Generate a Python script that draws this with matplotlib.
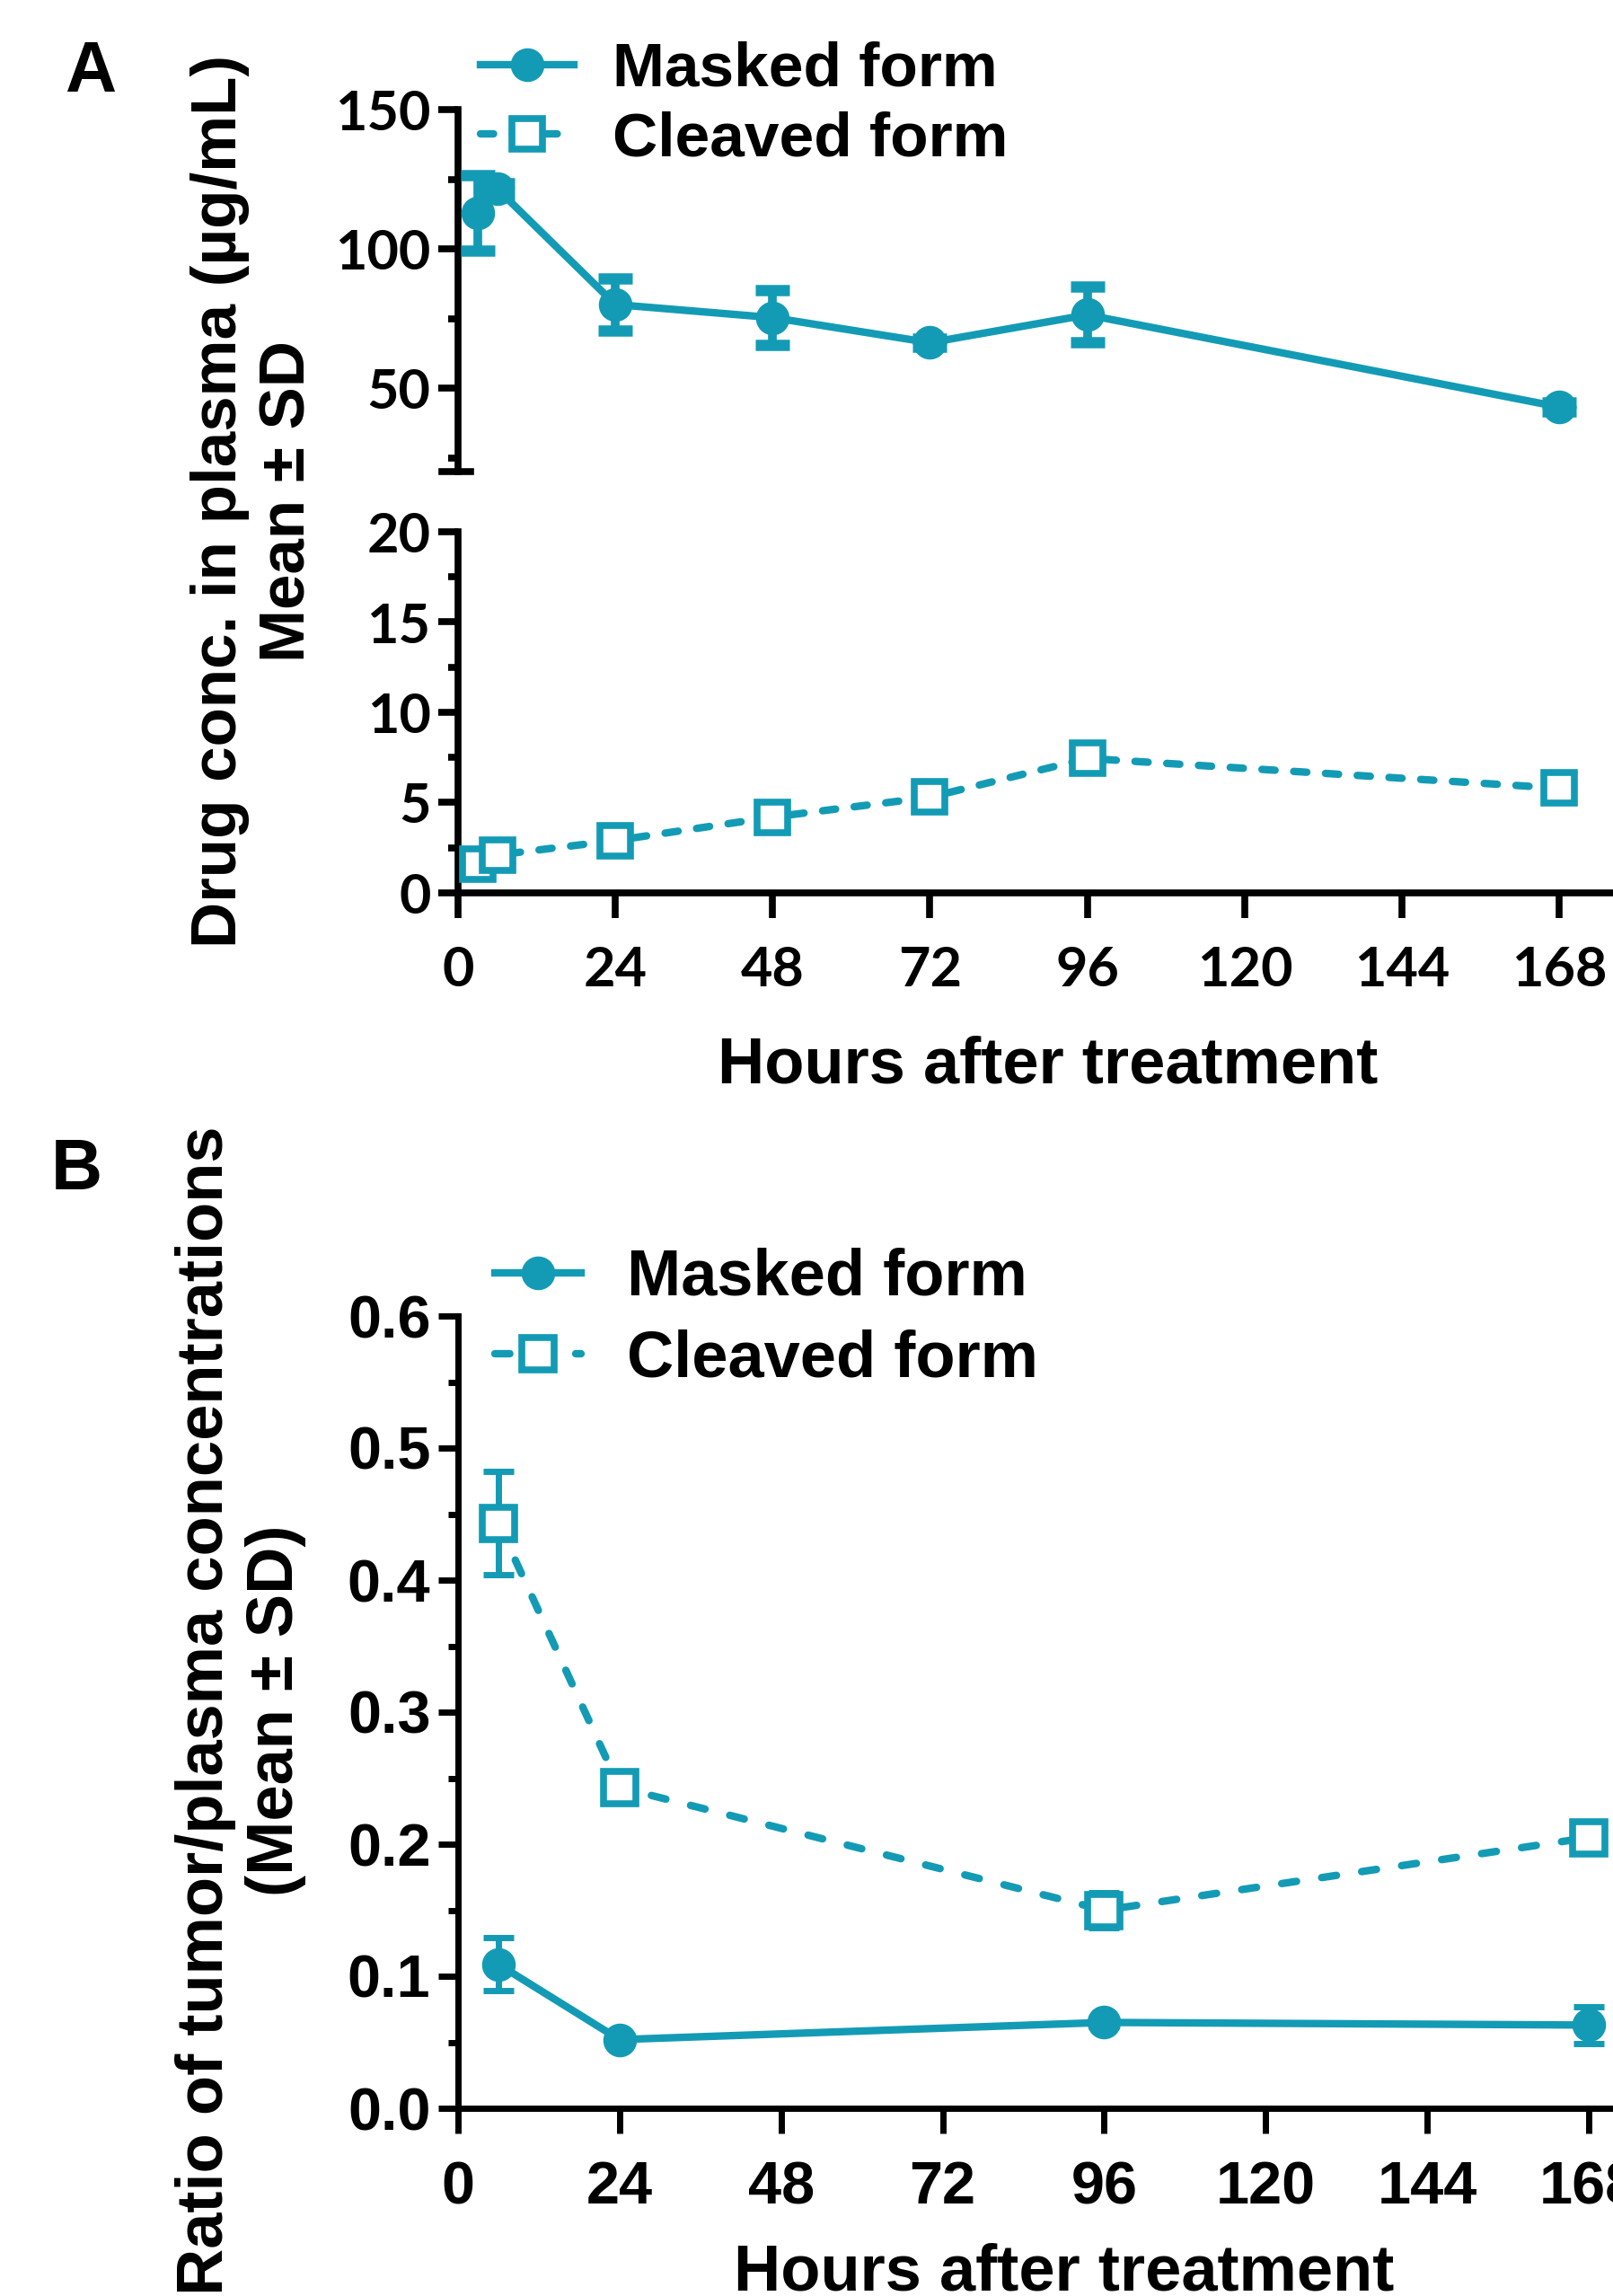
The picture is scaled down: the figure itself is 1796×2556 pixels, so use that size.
import matplotlib
matplotlib.use("Agg")
import matplotlib.pyplot as plt
from matplotlib.ticker import MultipleLocator, FormatStrFormatter

# colours / fonts
teal = "#139bb5"
arial = ["Liberation Sans", "DejaVu Sans"]
calibri = ["Lato", "Liberation Sans", "DejaVu Sans"]

# panel A data (plasma conc.)
hours_a = [3, 6, 24, 48, 72, 96, 168]
masked_a = [113, 121.5, 80, 75.3, 66.3, 76.3, 43.2]
masked_a_sd = [13.6, 2, 9.5, 9.8, 1.5, 10, 1.5]
cleaved_a = [1.6, 2.1, 2.9, 4.2, 5.3, 7.45, 5.8]
cleaved_a_sd = [0.2, 0.2, 0.2, 0.2, 0.65, 0.2, 0.2]

# panel B data (tumor/plasma ratio)
hours_b = [6, 24, 96, 168]
masked_b = [0.109, 0.052, 0.065, 0.063]
masked_b_sd = [0.020, 0.003, 0.003, 0.014]
cleaved_b = [0.443, 0.243, 0.150, 0.205]
cleaved_b_sd = [0.039, 0.005, 0.013, 0.011]

hour_ticks = [0, 24, 48, 72, 96, 120, 144, 168]
legend_labels = ["Masked form", "Cleaved form"]

W, H = 1796, 2556
fig = plt.figure(figsize=(W / 100, H / 100), dpi=100)


def box(left, top, bottom):
    return [left / W, 1 - bottom / H, (W - left) / W, (bottom - top) / H]


axA1 = fig.add_axes(box(510, 122, 525))
axA2 = fig.add_axes(box(510, 592, 994))
axB = fig.add_axes(box(510, 1465, 2347))


def style_axis(ax, lw, tick_font, tick_size, show_x=True):
    for s in ["top", "right"]:
        ax.spines[s].set_visible(False)
    ax.spines["left"].set_linewidth(lw)
    ax.spines["bottom"].set_linewidth(lw)
    if not show_x:
        ax.spines["bottom"].set_visible(False)
        ax.tick_params(axis="x", which="both", bottom=False, labelbottom=False)
    else:
        ax.set_xticks(hour_ticks)
        ax.tick_params(axis="x", which="major", length=20, width=lw, pad=22)
    ax.tick_params(axis="y", which="major", length=16, width=lw, pad=6)
    ax.tick_params(axis="y", which="minor", length=8, width=lw)
    for lab in ax.get_xticklabels() + ax.get_yticklabels():
        lab.set_fontfamily(tick_font)
        lab.set_fontweight("bold")
        lab.set_fontsize(tick_size)


def draw(ax, x, y, sd, filled, lw, ms, dashes, cap, capw, elw):
    ax.errorbar(x, y, yerr=sd, fmt="none", ecolor=teal, elinewidth=elw,
                capsize=cap, capthick=capw, clip_on=False, zorder=3)
    if filled:
        line, = ax.plot(x, y, "-o", color=teal, lw=lw, ms=ms,
                        clip_on=False, zorder=4)
    else:
        line, = ax.plot(x, y, "--s", color=teal, lw=lw, ms=ms,
                        mfc="white", mec=teal, mew=5.5, dashes=dashes,
                        dash_capstyle="round", clip_on=False, zorder=4)
    return line


# ---- panel A ----
hA1 = draw(axA1, hours_a, masked_a, masked_a_sd, True, 6, 26, None, 14, 9, 7)
hA2 = draw(axA2, hours_a, cleaved_a, cleaved_a_sd, False, 6, 25, (1.75, 2.5), 12, 7, 6)

axA1.set_xlim(0, 176.2)
axA2.set_xlim(0, 176.2)
axA1.set_ylim(20, 150)
axA2.set_ylim(0, 20)
axA1.set_yticks([50, 100, 150])
axA1.yaxis.set_minor_locator(MultipleLocator(25))
axA2.set_yticks([0, 5, 10, 15, 20])
axA2.yaxis.set_minor_locator(MultipleLocator(2.5))
style_axis(axA1, 5.5, calibri, 44, show_x=False)
style_axis(axA2, 5.5, calibri, 44)
# axis break cap at the bottom of the upper segment
axA1.axhline(20, xmin=-0.014, xmax=0.011, color="black", lw=5.5, clip_on=False)

axA2.set_xlabel("Hours after treatment", fontsize=52, fontweight="bold",
                family=arial)
axA2.xaxis.set_label_coords(0.511, -0.48)
axA2.xaxis.label.set_verticalalignment("center")

fig.text(283 / W, 1 - 558 / H, "Drug conc. in plasma (µg/mL)\nMean ± SD",
         rotation=90, ha="center", va="center", multialignment="center",
         fontsize=51, fontweight="bold", family=arial, linespacing=1.2)

fig.legend([hA1, hA2], legend_labels, loc="upper left",
           bbox_to_anchor=(535 / W, 1 - 46 / H), frameon=False,
           prop={"family": arial, "weight": "bold", "size": 50},
           handlelength=1.5, handletextpad=0.62, labelspacing=0.19,
           borderpad=0, borderaxespad=0)

fig.text(101 / W, 1 - 82 / H, "A", ha="center", va="center",
         fontsize=57, fontweight="bold", family=arial)

# ---- panel B ----
hB1 = draw(axB, hours_b, masked_b, masked_b_sd, True, 6, 26, None, 12, 5, 5)
hB2 = draw(axB, hours_b, cleaved_b, cleaved_b_sd, False, 6, 26, (2.0, 3.4), 12, 5, 5)

axB.set_xlim(0, 171.6)
axB.set_ylim(0, 0.6)
axB.set_yticks([0, 0.1, 0.2, 0.3, 0.4, 0.5, 0.6])
axB.yaxis.set_major_formatter(FormatStrFormatter("%.1f"))
axB.yaxis.set_minor_locator(MultipleLocator(0.05))
style_axis(axB, 5, arial, 48)

axB.set_xlabel("Hours after treatment", fontsize=52, fontweight="bold",
               family=arial)
axB.xaxis.set_label_coords(0.525, -0.208)
axB.xaxis.label.set_verticalalignment("center")

fig.text(268 / W, 1 - 1904 / H,
         "Ratio of tumor/plasma concentrations\n(Mean ± SD)",
         rotation=90, ha="center", va="center", multialignment="center",
         fontsize=52, fontweight="bold", family=arial, linespacing=1.2)

fig.legend([hB1, hB2], legend_labels, loc="upper left",
           bbox_to_anchor=(551 / W, 1 - 1389 / H), frameon=False,
           prop={"family": arial, "weight": "bold", "size": 52},
           handlelength=1.33, handletextpad=0.7, labelspacing=0.31,
           borderpad=0, borderaxespad=0)

fig.text(85 / W, 1 - 1304 / H, "B", ha="center", va="center",
         fontsize=57, fontweight="bold", family=arial)

fig.savefig("out.png", dpi=100)
